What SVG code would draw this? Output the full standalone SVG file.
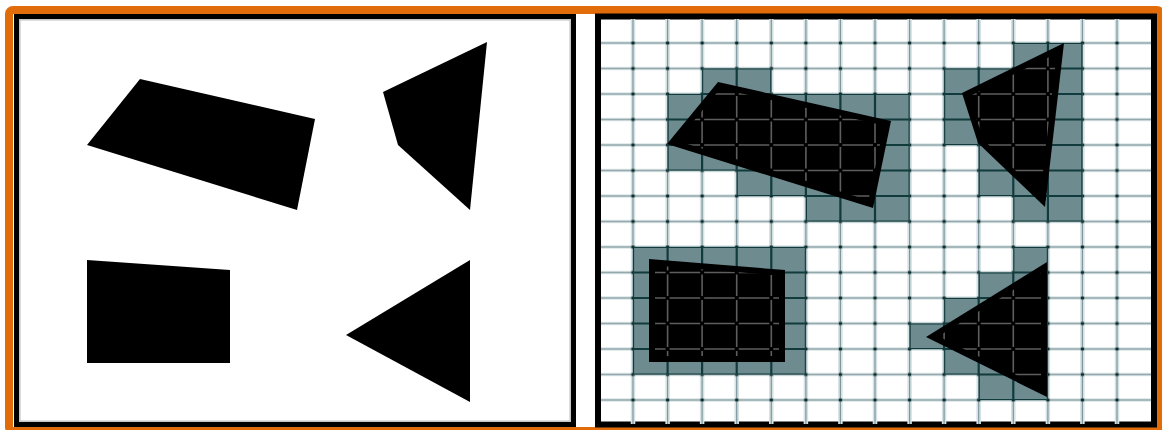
<svg xmlns="http://www.w3.org/2000/svg" xmlns:xlink="http://www.w3.org/1999/xlink" width="1162" height="430" viewBox="0 0 1162 430">
  <style>
    .frame{fill:none;stroke:#e36c0a;stroke-width:8}
    .panel{fill:#ffffff;stroke:#000000}
    .shadow{fill:none;stroke:#c6c6c6;stroke-width:1.6}
    .shape{fill:#000000}
    .cell{fill:#6e8b8f}
    .vhalo{fill:none;stroke:#d5e1e3;stroke-width:4.5}
    .vline{fill:none;stroke:#7d979d;stroke-width:1.2}
    .hhalo{fill:none;stroke:#dce5e7;stroke-width:3.5}
    .hline{fill:none;stroke:#93a9ad;stroke-width:1.4}
    .dark{fill:none;stroke:#113a3c;stroke-width:2.2}
    .ongray{fill:none;stroke:#5e5e5e;stroke-width:1.6}
  </style>
  <defs>
    <path id="vpath" d="M633 19V424M667.6 19V424M702.1 19V424M736.7 19V424M771.3 19V424M805.9 19V424M840.4 19V424M875 19V424M909.6 19V424M944.1 19V424M978.7 19V424M1013.3 19V424M1047.9 19V424M1082.4 19V424M1117 19V424"/>
    <path id="hpath" d="M601 43H1151M601 68.5H1151M601 94H1151M601 119.5H1151M601 145H1151M601 170.5H1151M601 196H1151M601 221.5H1151M601 247H1151M601 272.5H1151M601 298H1151M601 323.5H1151M601 349H1151M601 374.5H1151M601 400H1151"/>
    <path id="cells" d="M702.1 68.5H771.3V94H702.1Z M667.6 94H909.6V170.5H667.6Z M736.7 170.5H909.6V196H736.7Z M805.9 196H909.6V221.5H805.9Z M1013.3 43H1082.4V68.5H1013.3Z M944.1 68.5H1082.4V145H944.1Z M978.7 145H1082.4V196H978.7Z M1013.3 196H1082.4V221.5H1013.3Z M633 247H805.9V374.5H633Z M1013.3 247H1047.9V272.5H1013.3Z M978.7 272.5H1047.9V298H978.7Z M944.1 298H1047.9V323.5H944.1Z M909.6 323.5H1047.9V349H909.6Z M944.1 349H1047.9V374.5H944.1Z M978.7 374.5H1047.9V400H978.7Z"/>
    <clipPath id="cellclip">
      <use xlink:href="#cells"/>
    </clipPath>
    <pattern id="dots" patternUnits="userSpaceOnUse" x="615.714" y="30.25" width="34.5714" height="25.5">
      <rect x="15.6" y="11.3" width="3.4" height="2.9" fill="#0e2e2e"/>
    </pattern>
    <mask id="blackmask" maskUnits="userSpaceOnUse" x="590" y="10" width="572" height="420">
      <g fill="#ffffff" stroke="#000000" stroke-width="12" stroke-linejoin="round">
        <polygon points="718,82 891,121 873,208 667,144"/>
        <polygon points="962,93 1064,43 1045,207 978,143"/>
        <polygon points="649,259 785,270 785,362 649,362"/>
        <polygon points="1047,262 1047,397 926,337"/>
      </g>
    </mask>
  </defs>

  <rect x="0" y="0" width="1162" height="430" fill="#ffffff"/>
  <rect class="frame" x="9" y="10" width="1152" height="421" rx="4"/>

  <g id="left-panel">
    <rect class="panel" x="16.5" y="16.5" width="557" height="408" stroke-width="5"/>
    <rect class="shadow" x="19.8" y="19.8" width="550.4" height="401.4"/>
    <polygon id="left-quad" class="shape" points="140,79 315,119 297,210 87,145"/>
    <polygon id="left-kite" class="shape" points="383,92 487,42 470,210 398,145"/>
    <polygon id="left-rect" class="shape" points="87,260 230,270 230,363 87,363"/>
    <polygon id="left-tri" class="shape" points="470,260 470,402 346,335"/>
  </g>

  <g id="right-panel">
    <rect class="panel" x="598" y="16.5" width="556" height="408" stroke-width="6"/>
    <g id="grid-light">
      <use xlink:href="#vpath" class="vhalo"/>
      <use xlink:href="#hpath" class="hhalo"/>
      <use xlink:href="#vpath" class="vline"/>
      <use xlink:href="#hpath" class="hline"/>
      <rect x="615.714" y="30.25" width="518.57" height="382.5" fill="url(#dots)"/>
    </g>
    <g id="gray-cells">
      <use xlink:href="#cells" class="cell"/>
      <g clip-path="url(#cellclip)">
        <use xlink:href="#vpath" class="dark"/>
        <use xlink:href="#hpath" class="dark"/>
      </g>
    </g>
    <g id="right-shapes">
      <polygon id="right-quad" class="shape" points="718,82 891,121 873,208 667,144"/>
      <polygon id="right-kite" class="shape" points="962,93 1064,43 1045,207 978,143"/>
      <polygon id="right-rect" class="shape" points="649,259 785,270 785,362 649,362"/>
      <polygon id="right-tri" class="shape" points="1047,262 1047,397 926,337"/>
    </g>
    <g id="grid-on-shapes" mask="url(#blackmask)">
      <path class="ongray" stroke-dasharray="21.5 4" d="M633 19.5V424M667.6 19.5V424M702.1 19.5V424M736.7 19.5V424M771.3 19.5V424M805.9 19.5V424M840.4 19.5V424M875 19.5V424M909.6 19.5V424M944.1 19.5V424M978.7 19.5V424M1013.3 19.5V424M1047.9 19.5V424M1082.4 19.5V424M1117 19.5V424"/>
      <path class="ongray" stroke-dasharray="30.57 4" d="M600.43 43H1151M600.43 68.5H1151M600.43 94H1151M600.43 119.5H1151M600.43 145H1151M600.43 170.5H1151M600.43 196H1151M600.43 221.5H1151M600.43 247H1151M600.43 272.5H1151M600.43 298H1151M600.43 323.5H1151M600.43 349H1151M600.43 374.5H1151M600.43 400H1151"/>
    </g>
  </g>
</svg>
